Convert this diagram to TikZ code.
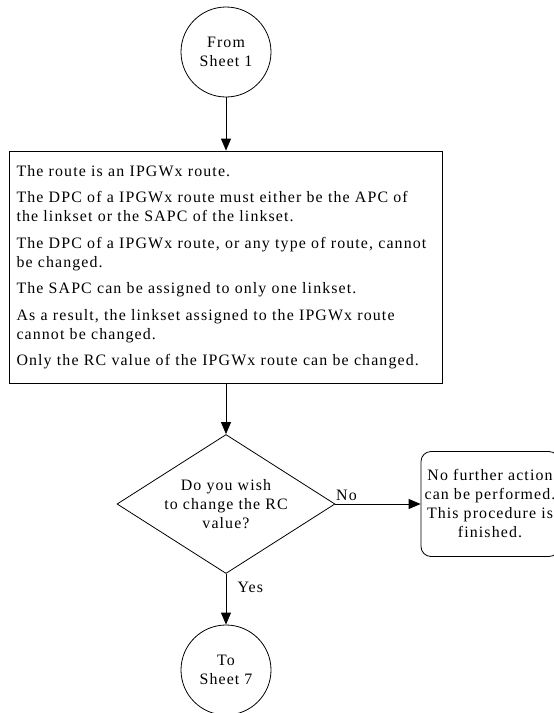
\documentclass[tikz,border=0pt]{standalone}
\usepackage{fontspec}
\setmainfont{Liberation Serif}[LetterSpace=7]
\usetikzlibrary{shapes.geometric, positioning, arrows.meta}

\tikzset{
  sheet/.style={circle, draw, minimum size=90pt, inner sep=0pt, align=center},
  note/.style={rectangle, draw, text width=419pt, inner xsep=7pt, minimum height=232pt, align=left},
  ask/.style={diamond, draw, aspect=1.57, minimum width=218pt, minimum height=139pt, inner sep=0pt, align=center},
  stop/.style={rectangle, rounded corners=10pt, draw, minimum width=138pt, minimum height=105pt, inner sep=0pt, align=center}
}

\begin{document}
\begin{tikzpicture}[x=1pt, y=1pt, on grid, line width=0.8pt,
    >={Triangle[length=12pt, width=10pt]}, font=\fontsize{15.9}{19}\selectfont]
        \useasboundingbox (0,0) rectangle (554,-713);
        \node[sheet] (from1) at (226,-52) {From\\Sheet 1};
        \node[note] (info) [below=215pt of from1] {The route is an IPGWx route.\\[7.5pt]
            The DPC of a IPGWx route must either be the APC of\\
            the linkset or the SAPC of the linkset.\\[7.5pt]
            The DPC of a IPGWx route, or any type of route, cannot\\
            be changed.\\[7.5pt]
            The SAPC can be assigned to only one linkset.\\[7.5pt]
            As a result, the linkset assigned to the IPGWx route\\
            cannot be changed.\\[7.5pt]
            Only the RC value of the IPGWx route can be changed.};
        \node[ask] (change) [below=237pt of info] {Do you wish\\to change the RC\\value?};
        \node[stop] (done) [right=264pt of change] {No further action\\can be performed.\\This procedure is\\finished.};
        \node[sheet] (to7) [below=166pt of change] {To\\Sheet 7};

        \path[->]
        (from1) edge (info)
        (info) edge (change)
        (change) edge node[above, pos=0.13] {No} (done)
        (change) edge node[right=8pt, pos=0.27] {Yes} (to7);
    \end{tikzpicture}
\end{document}
